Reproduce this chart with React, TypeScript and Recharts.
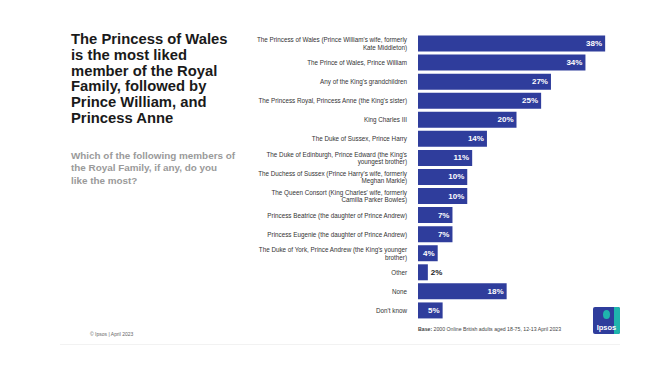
import { BarChart, Bar, XAxis, YAxis, LabelList } from "recharts";

const members = [
  "The Princess of Wales (Prince William's wife, formerly\nKate Middleton)",
  "The Prince of Wales, Prince William",
  "Any of the King's grandchildren",
  "The Princess Royal, Princess Anne (the King's sister)",
  "King Charles III",
  "The Duke of Sussex, Prince Harry",
  "The Duke of Edinburgh, Prince Edward (the King's\nyoungest brother)",
  "The Duchess of Sussex (Prince Harry's wife, formerly\nMeghan Markle)",
  "The Queen Consort (King Charles' wife, formerly\nCamilla Parker Bowles)",
  "Princess Beatrice (the daughter of Prince Andrew)",
  "Princess Eugenie (the daughter of Prince Andrew)",
  "The Duke of York, Prince Andrew (the King's younger\nbrother)",
  "Other",
  "None",
  "Don't know",
];
const liked = [38, 34, 27, 25, 20, 14, 11, 10, 10, 7, 7, 4, 2, 18, 5];

const data = members.map((name, i) => ({ name, value: liked[i] }));

const BLUE = "#2f3d9c";
const FONT = "'Liberation Sans', Arial, sans-serif";

function MemberTick({ x, y, payload }: any) {
  const lines = String(payload.value).split("\n");
  const lh = 7.6;
  const start = y - ((lines.length - 1) * lh) / 2;
  return (
    <text x={x} y={start} textAnchor="end" fontSize={6.3} fill="#333" fontFamily={FONT} dominantBaseline="central">
      {lines.map((l, i) => (
        <tspan key={i} x={x} y={start + i * lh}>
          {l}
        </tspan>
      ))}
    </text>
  );
}

function ValueLabel({ x, y, width, height, value }: any) {
  const small = width < 14;
  return (
    <text
      x={small ? x + width + 3 : x + width - 3}
      y={y + height / 2}
      textAnchor={small ? "start" : "end"}
      dominantBaseline="central"
      fontSize={8}
      fontWeight="bold"
      fill={small ? "#222" : "#fff"}
      fontFamily={FONT}
    >
      {value}%
    </text>
  );
}

export default function App() {
  return (
    <div style={{ position: "absolute", left: 0, top: 0, width: 660, height: 369, background: "#fff", fontFamily: FONT, overflow: "hidden" }}>
      <div style={{ position: "absolute", left: 71, top: 32, width: 168, fontSize: 14.8, fontWeight: "bold", lineHeight: "15.8px", color: "#1a1a1a" }}>
        The Princess of Wales is the most liked member of the Royal Family, followed by Prince William, and Princess Anne
      </div>
      <div style={{ position: "absolute", left: 71, top: 150, width: 180, fontSize: 9.9, fontWeight: "bold", lineHeight: "12.3px", color: "#9a9a9a" }}>
        Which of the following members of
        <br />
        the Royal Family, if any, do you
        <br />
        like the most?
      </div>
      <div style={{ position: "absolute", left: 0, top: 0 }}>
        <BarChart
          width={615}
          height={369}
          data={data}
          layout="vertical"
          margin={{ top: 33.5, right: 0, bottom: 49.5, left: 0 }}
        >
          <XAxis type="number" domain={[0, 40]} hide />
          <YAxis
            type="category"
            dataKey="name"
            width={418}
            axisLine={false}
            tickLine={false}
            tickMargin={5}
            tick={<MemberTick />}
            interval={0}
          />
          <Bar dataKey="value" fill={BLUE} barSize={16} isAnimationActive={false}>
            <LabelList dataKey="value" content={<ValueLabel />} />
          </Bar>
        </BarChart>
      </div>
      <div style={{ position: "absolute", left: 90, top: 331, fontSize: 5, color: "#666" }}>© Ipsos | April 2023</div>
      <div style={{ position: "absolute", left: 418, top: 326, fontSize: 5.2, color: "#444" }}>
        <b>Base:</b> 2000 Online British adults aged 18-75, 12-13 April 2023
      </div>
      <div style={{ position: "absolute", left: 593, top: 307, width: 27, height: 27, background: BLUE, borderRadius: 2, overflow: "hidden" }}>
        <div style={{ position: "absolute", right: 0, top: 0, width: 6, height: 27, background: "#1fb5ad" }} />
        <div style={{ position: "absolute", left: 10, top: 3, width: 7, height: 9, borderRadius: "50%", background: "#1fb5ad" }} />
        <div style={{ position: "absolute", left: 0, top: 16, width: 27, textAlign: "center", fontSize: 7.5, fontWeight: "bold", color: "#fff" }}>Ipsos</div>
      </div>
      <div style={{ position: "absolute", left: 60, top: 344, width: 560, height: 1, background: "#f2f2f2" }} />
    </div>
  );
}
